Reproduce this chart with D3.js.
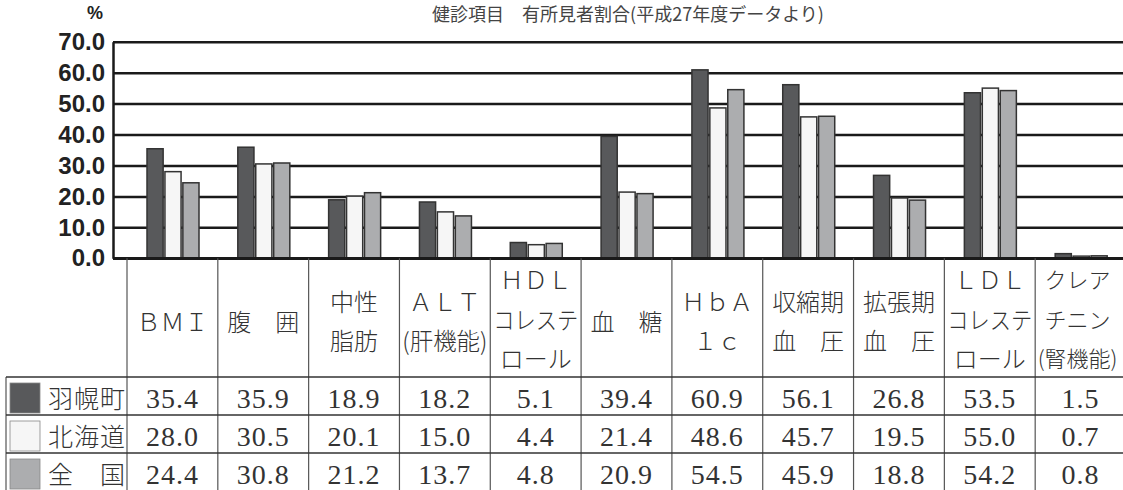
<!DOCTYPE html>
<html>
<head>
<meta charset="utf-8">
<script src="https://cdn.jsdelivr.net/npm/d3@7"></script>
<style>
    body { margin: 0; background: #fff; }
    svg { display: block; }
</style>
</head>
<body>
<div id="chart"></div>
<script>
/***********************************************************
 * Data
 * *********************************************************
 */
let categories = ["BMI", "腹囲", "中性脂肪", "ALT", "HDL", "血糖", "HbA1c", "収縮期血圧", "拡張期血圧", "LDL", "クレアチニン"];
let headerLines = [
    ["ＢＭＩ"], ["腹　囲"], ["中性", "脂肪"], ["ＡＬＴ", "(肝機能)"],
    ["ＨＤＬ", "コレステ", "ロール"], ["血　糖"], ["ＨｂＡ", "１ｃ"],
    ["収縮期", "血　圧"], ["拡張期", "血　圧"], ["ＬＤＬ", "コレステ", "ロール"],
    ["クレア", "チニン", "(腎機能)"]
];
let seriesNames = ["羽幌町", "北海道", "全　国"];
let haboroValues = [35.4, 35.9, 18.9, 18.2, 5.1, 39.4, 60.9, 56.1, 26.8, 53.5, 1.5];
let hokkaidoValues = [28.0, 30.5, 20.1, 15.0, 4.4, 21.4, 48.6, 45.7, 19.5, 55.0, 0.7];
let nationalValues = [24.4, 30.8, 21.2, 13.7, 4.8, 20.9, 54.5, 45.9, 18.8, 54.2, 0.8];
let yTicks = [0, 10, 20, 30, 40, 50, 60, 70];
let chartTitle = "健診項目　有所見者割合(平成27年度データより)";

let seriesValues = [haboroValues, hokkaidoValues, nationalValues];
let seriesColors = ["#58595b", "#f6f6f6", "#acadaf"];

/***********************************************************
 * Sizes
 * *********************************************************
 */
let svgWidth = 1123;
let svgHeight = 490;
let axisX = 113;
let tableLeft = 127;
let tableRight = 1126;
let legendLeft = 6;
let headerBottom = 377;
let rowHeight = 38;

let svg = d3.select("#chart")
    .append("svg")
    .attr("width", svgWidth)
    .attr("height", svgHeight);

let yScale = d3.scaleLinear()
    .domain([0, 70])
    .range([258.3, 41.7]);

let xScale = d3.scaleBand()
    .domain(categories)
    .range([tableLeft, tableRight]);

let xInner = d3.scaleBand()
    .domain(seriesNames)
    .range([20, 72])
    .paddingInner(0.1);

/***********************************************************
 * Title and unit
 * *********************************************************
 */
svg.append("text")
    .attr("x", 628)
    .attr("y", 21)
    .attr("text-anchor", "middle")
    .style("font-family", "'Noto Sans CJK JP', sans-serif")
    .style("font-size", "18px")
    .style("fill", "#444")
    .text(chartTitle);

svg.append("text")
    .attr("x", 95)
    .attr("y", 19)
    .attr("text-anchor", "middle")
    .style("font-family", "'Liberation Sans', Arial, sans-serif")
    .style("font-weight", "bold")
    .style("font-size", "18px")
    .style("fill", "#222")
    .text("%");

/***********************************************************
 * Y axis with full width grid lines
 * *********************************************************
 */
let leftAxis = d3.axisLeft(yScale)
    .tickValues(yTicks)
    .tickSize(-(svgWidth - axisX))
    .tickSizeOuter(0)
    .tickPadding(8)
    .tickFormat(d3.format(".1f"));

let yAxis = svg.append("g")
    .attr("transform", `translate(${axisX}, 0)`)
    .call(leftAxis);

yAxis.select(".domain")
    .attr("stroke", "#1a1a1a")
    .attr("stroke-width", 2.5);

yAxis.selectAll(".tick line")
    .attr("stroke", "#1a1a1a")
    .attr("stroke-width", 2.5);

yAxis.selectAll(".tick text")
    .style("font-family", "'Liberation Sans', Arial, sans-serif")
    .style("font-weight", "bold")
    .style("font-size", "24px")
    .style("fill", "#222");

/***********************************************************
 * Bars
 * *********************************************************
 */
let barGroups = svg.append("g")
    .selectAll("g")
    .data(categories)
    .enter()
    .append("g")
    .attr("transform", d => `translate(${xScale(d)}, 0)`);

barGroups.selectAll("rect")
    .data((d, i) => seriesNames.map((s, j) => ({ series: s, idx: j, value: seriesValues[j][i] })))
    .enter()
    .append("rect")
    .attr("x", d => xInner(d.series))
    .attr("width", xInner.bandwidth())
    .attr("y", d => yScale(d.value))
    .attr("height", d => yScale(0) - yScale(d.value))
    .style("fill", d => seriesColors[d.idx])
    .style("stroke", "#333")
    .style("stroke-width", 1.5);

// redraw the zero line over the bar bottoms
svg.append("line")
    .attr("x1", axisX)
    .attr("x2", svgWidth)
    .attr("y1", yScale(0))
    .attr("y2", yScale(0))
    .attr("stroke", "#1a1a1a")
    .attr("stroke-width", 2.5);

/***********************************************************
 * Data table under the chart
 * *********************************************************
 */
let table = svg.append("g");
let borderColor = "#555";

// column borders
let colEdges = categories.map(c => xScale(c)).concat([tableRight]);
table.selectAll("line.col")
    .data(colEdges)
    .enter()
    .append("line")
    .attr("class", "col")
    .attr("x1", d => d)
    .attr("x2", d => d)
    .attr("y1", yScale(0))
    .attr("y2", svgHeight)
    .attr("stroke", borderColor)
    .attr("stroke-width", 1.2);

table.append("line")
    .attr("x1", legendLeft)
    .attr("x2", legendLeft)
    .attr("y1", headerBottom)
    .attr("y2", svgHeight)
    .attr("stroke", borderColor)
    .attr("stroke-width", 1.2);

// row borders
table.selectAll("line.row")
    .data(d3.range(seriesNames.length))
    .enter()
    .append("line")
    .attr("class", "row")
    .attr("x1", legendLeft)
    .attr("x2", svgWidth)
    .attr("y1", i => headerBottom + i * rowHeight)
    .attr("y2", i => headerBottom + i * rowHeight)
    .attr("stroke", "#333")
    .attr("stroke-width", 1.4);

// header cells
let lineCenters = {
    1: [320],
    2: [300, 339],
    3: [278, 318, 357]
};

categories.forEach((c, i) => {
    let lines = headerLines[i];
    let isLast = i === categories.length - 1;
    // last column runs past the picture edge, keep its text inside
    let cx = xScale(c) + xScale.bandwidth() / 2 - (isLast ? 3 : 0);
    let maxLen = 85;
    lines.forEach((ln, k) => {
        let t = table.append("text")
            .attr("x", cx)
            .attr("y", lineCenters[lines.length][k])
            .attr("text-anchor", "middle")
            .attr("dominant-baseline", "central")
            .style("font-family", "'Noto Sans CJK JP', sans-serif")
            .style("font-size", isLast ? "22px" : "24px")
            .style("font-weight", "300")
            .style("fill", "#333")
            .text(ln);
        if (t.node().getComputedTextLength() > maxLen) {
            t.attr("textLength", maxLen).attr("lengthAdjust", "spacingAndGlyphs");
        }
    });
});

// data rows with legend swatches
seriesNames.forEach((s, j) => {
    let rowTop = headerBottom + j * rowHeight;

    table.append("rect")
        .attr("x", 10)
        .attr("y", rowTop + 6)
        .attr("width", 30)
        .attr("height", 30)
        .style("fill", seriesColors[j])
        .style("stroke", "#888")
        .style("stroke-width", 0.8);

    table.append("text")
        .attr("x", 48)
        .attr("y", rowTop + rowHeight / 2 + 1)
        .attr("dominant-baseline", "central")
        .attr("textLength", 77)
        .attr("lengthAdjust", "spacing")
        .style("font-family", "'Noto Sans CJK JP', sans-serif")
        .style("font-size", "25px")
        .style("font-weight", "300")
        .style("fill", "#333")
        .text(s);

    categories.forEach((c, i) => {
        table.append("text")
            .attr("x", xScale(c) + xScale.bandwidth() / 2)
            .attr("y", rowTop + rowHeight / 2 + 2)
            .attr("text-anchor", "middle")
            .attr("dominant-baseline", "central")
            .style("font-family", "'Liberation Serif', 'Times New Roman', serif")
            .style("font-size", "28px")
            .style("letter-spacing", "1px")
            .style("fill", "#333")
            .text(seriesValues[j][i].toFixed(1));
    });
});
</script>
</body>
</html>
